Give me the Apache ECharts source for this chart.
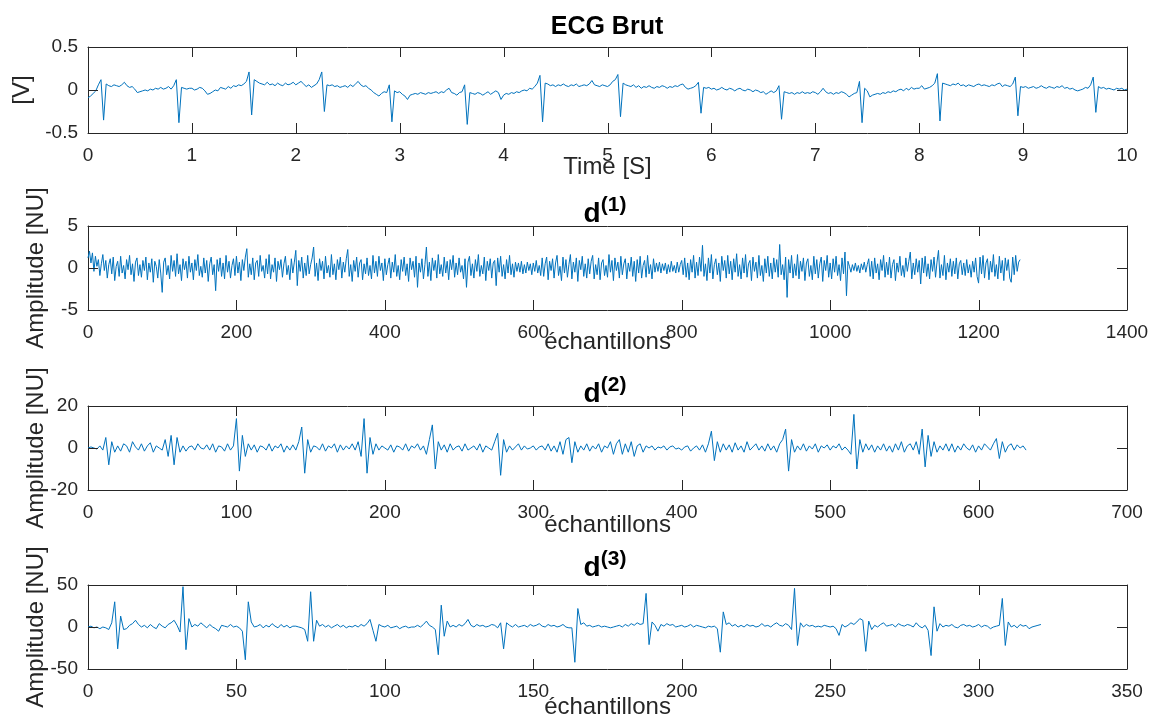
<!DOCTYPE html>
<html>
<head>
<meta charset="utf-8">
<script src="https://cdn.jsdelivr.net/npm/echarts@6/dist/echarts.min.js"></script>
<style>
html,body{margin:0;padding:0;background:#fff;}
#chart{width:1153px;height:718px;}
</style>
</head>
<body>
<div id="chart"></div>
<script>
// ---------- DATA ----------
const ecgStep = 0.025; // seconds per value
const ecgVolt = [
-0.09,-0.07,-0.04,-0.01,0.06,0.12,-0.35,0.07,0.05,0.04,
0.06,0.05,0.04,0.06,0.09,0.05,0.03,0.04,0.01,-0.03,
-0.02,-0.01,0.00,-0.01,0.01,0.00,0.02,0.01,0.03,0.01,
0.02,0.04,0.01,0.05,0.12,-0.38,0.03,0.02,0.01,0.02,
0.02,0.00,0.01,0.03,0.02,-0.01,-0.05,-0.04,-0.02,0.00,
-0.01,0.03,0.02,0.01,0.04,0.02,0.05,0.04,0.06,0.05,
0.07,0.10,0.21,-0.29,0.12,0.10,0.08,0.07,0.06,0.09,
0.06,0.07,0.05,0.08,0.06,0.05,0.08,0.06,0.07,0.09,
0.06,0.08,0.10,0.07,0.04,0.06,0.03,0.05,0.07,0.12,
0.21,-0.25,0.06,0.05,0.06,0.04,0.05,0.03,0.04,0.05,
0.03,0.06,0.04,0.07,0.10,0.06,0.04,0.05,0.02,0.00,
-0.03,-0.05,-0.07,-0.04,-0.02,-0.03,0.06,-0.37,-0.01,-0.03,
-0.02,-0.05,-0.07,-0.11,-0.06,-0.05,-0.04,-0.05,-0.03,-0.04,
-0.05,-0.03,-0.04,-0.03,-0.02,-0.04,-0.02,-0.03,0.00,0.02,
-0.03,-0.04,-0.06,-0.03,-0.02,0.06,-0.40,-0.03,-0.04,-0.05,
-0.03,-0.04,-0.06,-0.04,-0.02,-0.05,-0.03,-0.01,-0.03,-0.11,
-0.06,-0.04,-0.05,-0.03,-0.04,-0.02,-0.03,-0.01,0.00,-0.01,
0.02,0.01,0.04,0.08,0.17,-0.37,0.08,0.07,0.05,0.06,
0.04,0.06,0.05,0.07,0.05,0.04,0.06,0.05,0.07,0.04,
0.05,0.06,0.05,0.07,0.11,0.06,0.05,0.04,0.06,0.05,
0.04,0.06,0.10,0.12,0.18,-0.31,0.08,0.06,0.05,0.04,
0.06,0.03,0.05,0.02,0.04,0.03,0.05,0.03,0.02,0.04,
0.03,0.05,0.04,0.02,0.04,0.03,0.05,0.04,0.06,0.07,
0.03,0.01,0.02,0.03,0.05,0.09,-0.27,0.03,0.02,0.03,
0.01,0.02,0.00,0.01,0.03,0.01,0.00,0.02,0.01,-0.01,
0.01,0.02,0.00,-0.01,0.01,0.00,-0.02,0.00,-0.01,-0.03,
-0.02,-0.05,-0.03,-0.01,-0.03,-0.01,0.05,-0.34,-0.02,-0.03,
-0.04,-0.03,-0.05,-0.03,-0.04,-0.02,-0.04,-0.03,-0.04,-0.02,
-0.03,-0.05,-0.02,0.02,-0.02,-0.04,-0.03,-0.05,-0.03,-0.04,
-0.02,-0.03,-0.05,-0.08,-0.06,-0.04,-0.03,0.10,-0.38,0.02,
-0.01,-0.08,-0.06,-0.05,-0.04,-0.05,-0.03,-0.04,-0.02,-0.03,
-0.01,-0.02,0.00,0.01,-0.01,0.02,0.00,0.03,0.01,0.02,
0.02,0.05,0.01,0.02,0.03,0.05,0.08,0.19,-0.36,0.08,
0.07,0.06,0.05,0.07,0.06,0.08,0.05,0.06,0.04,0.06,
0.05,0.04,0.06,0.07,0.05,0.06,0.05,0.04,0.06,0.05,
0.07,0.08,0.04,0.06,0.05,0.04,0.07,0.15,-0.30,0.04,
0.03,0.04,0.02,0.03,0.04,0.02,0.03,0.05,0.03,0.02,
0.04,0.03,0.02,0.04,0.03,0.05,0.02,0.03,0.01,0.02,
0.00,-0.01,0.00,0.01,0.03,0.02,0.06,0.15,-0.26,0.04,
0.02,0.03,0.01,0.02,0.01,0.00,0.02,0.01,0.02,0.00,
0.01
];

const d1Step = 2; // samples per value
const d1Vals = [
1.2,2.0,0.6,1.8,-0.4,1.4,0.2,1.0,-0.9,0.5,
1.6,-0.3,0.9,-1.2,0.4,1.1,-0.7,1.3,-1.5,0.2,
0.8,-1.0,1.4,-0.6,0.3,-1.3,1.0,-0.2,1.5,-0.8,
0.5,-1.6,0.7,1.2,-0.9,0.4,-1.1,0.9,-0.3,1.3,
-1.4,0.6,-0.5,1.1,-1.7,0.8,0.2,-1.2,1.0,-0.6,
-2.9,0.7,1.2,-0.8,0.3,-1.3,1.5,-0.4,0.9,-1.0,
1.7,-0.7,0.4,-1.5,1.1,-0.2,0.8,-1.2,1.4,-0.5,
0.6,-1.4,1.0,-0.3,1.6,-0.9,0.2,-1.1,1.2,-0.6,
0.9,-1.6,0.5,1.3,-0.8,0.4,-2.7,1.0,-0.4,1.2,
-1.0,0.6,-1.3,1.5,-0.5,0.8,-1.2,0.3,1.1,-0.9,
1.4,-0.6,0.7,-1.5,1.0,-0.3,1.3,2.3,-1.1,0.5,
-0.8,1.2,-1.4,0.6,0.9,-1.0,1.5,-0.4,0.3,-1.2,
1.1,-0.7,1.6,-1.3,0.4,-0.5,1.2,-1.6,0.8,-0.2,
1.0,-1.1,0.5,1.4,-0.8,0.3,-1.4,1.1,-0.6,0.7,
2.1,-2.1,0.9,-0.4,1.3,-1.2,0.6,-0.9,1.5,-0.7,
0.4,1.2,2.5,-1.0,0.6,-1.5,1.1,-0.3,0.8,-1.3,
1.4,-0.6,0.3,-1.1,1.6,-0.8,0.5,-1.4,1.0,-0.2,
1.3,-1.2,0.7,-0.5,1.1,2.2,-1.0,0.4,-1.6,0.9,
-0.4,1.3,-1.1,0.6,1.0,-1.4,0.5,-0.7,1.2,-0.9,
0.3,-1.3,1.5,-0.6,0.8,-1.0,1.4,-0.3,0.6,-1.5,
1.1,-0.8,0.4,1.2,-1.2,0.7,-0.5,1.6,-1.0,0.3,
-1.4,1.0,-0.4,1.3,-0.9,0.5,-1.6,1.2,-0.2,0.8,
-1.1,1.4,-2.3,0.6,-0.5,1.1,-1.3,0.4,2.5,-1.0,
0.7,-1.5,1.2,-0.3,0.9,-1.2,1.6,-0.7,0.4,-1.0,
1.3,-0.6,0.8,-1.4,1.0,-0.2,1.5,-1.1,0.6,-0.8,
1.2,-0.5,0.3,-1.3,1.1,-2.3,0.7,1.4,-0.9,0.5,
-1.2,1.0,-0.4,1.6,-1.0,0.3,-0.7,1.3,-1.5,0.8,
-0.3,1.1,-1.2,0.6,0.9,-2.1,1.2,-0.5,1.4,-1.0,
0.4,-1.3,1.0,-0.6,1.5,-0.8,0.5,-1.1,0.7,-0.4,
0.6,-0.5,0.8,-0.7,0.4,-0.6,0.7,-0.3,0.5,-0.8,
0.6,-0.4,0.9,-0.6,0.3,-0.9,1.2,-1.0,0.5,1.3,
-1.4,0.8,-0.3,1.1,-1.2,0.6,1.5,-0.9,0.2,-1.5,
1.3,-0.6,1.0,-1.1,0.4,1.6,-1.3,0.7,-0.5,1.2,
-1.6,0.9,-0.2,1.4,-1.0,0.5,-1.2,1.1,-0.7,0.8,
1.5,-1.3,0.4,-0.8,1.2,-1.4,0.6,1.0,-0.9,0.3,
-1.1,1.6,-0.5,0.9,-1.5,1.2,-0.3,0.7,-1.2,1.4,
-0.8,0.5,1.1,-1.3,0.6,-0.4,1.3,-1.0,0.8,-1.6,
1.0,-0.6,1.4,-1.2,0.3,0.9,-1.1,1.5,-0.7,0.4,
-1.3,1.1,-0.5,0.6,-0.4,0.7,-0.6,0.5,-0.3,0.6,
-0.7,0.4,-0.5,0.8,-0.4,0.3,-0.6,0.7,-0.5,0.4,
0.9,-0.8,1.2,-1.1,0.6,-1.4,1.0,-0.5,1.5,-1.2,
0.7,-0.9,1.3,-0.4,2.7,-1.0,0.5,-1.5,1.2,-0.6,
1.6,-1.3,0.4,1.1,-0.8,0.6,-1.6,1.4,-0.3,0.9,
-1.2,1.5,-0.7,0.8,-1.4,1.1,-0.5,1.7,-1.0,0.4,
-1.3,1.2,-0.6,1.6,-1.1,0.5,0.9,-1.5,1.3,-0.4,
0.7,-1.2,1.5,-0.9,0.3,-1.6,1.1,-0.6,1.4,-1.0,
0.6,-1.3,1.2,-0.5,1.0,-1.1,2.8,-0.8,0.4,-1.4,
1.3,-3.5,1.0,-0.6,1.5,-1.2,0.5,-0.9,1.6,-1.3,
0.8,-0.4,1.2,-1.5,0.6,1.1,-1.0,0.3,-1.4,1.4,
-0.7,1.0,-1.2,0.5,1.3,-1.6,0.9,-0.3,1.5,-1.1,
0.6,-1.3,1.1,-0.5,1.4,-0.9,0.4,-1.5,1.2,-0.7,
1.9,-3.3,0.8,0.2,-0.5,0.4,-0.3,0.6,-0.4,0.3,
-0.6,0.5,-0.2,0.7,-0.5,0.4,1.1,-1.0,0.8,-1.3,
1.2,-0.6,0.5,-1.4,1.0,-0.3,1.5,-1.1,0.7,-0.8,
1.3,-1.2,0.4,1.0,-1.5,0.6,-0.5,1.4,-0.9,0.3,
-1.1,1.2,-0.4,0.8,1.9,-1.3,0.6,-0.8,1.1,-0.5,
0.9,-1.9,1.2,-0.6,1.4,-1.0,0.5,-1.3,1.0,-0.4,
1.3,-1.1,0.7,2.1,-1.2,0.4,-0.9,1.5,-1.4,0.6,
-0.5,1.1,-1.0,0.8,-0.7,1.2,-1.3,0.5,0.9,-0.8,
0.6,-0.9,1.0,-0.6,0.4,-1.1,0.8,-0.5,1.2,-1.0,
-1.8,1.3,-0.7,1.5,-1.2,0.6,1.1,-1.4,0.8,-0.5,
1.6,-1.0,0.4,-1.3,1.4,-0.6,0.9,-1.5,1.2,-0.3,
1.0,-1.2,-1.7,1.3,-0.8,1.5,-0.4,0.7,1.0
];

const d2Step = 2; // samples per value
const d2Vals = [
0,0.5,0,-0.5,1,-1,5,-8,3,-2,
1,-1.5,2,1,-2,3,0.5,-1,2,-1.5,
1,2.5,-2,1,0,-1,4,-4,6,-8,
5,-2,1,-1.5,0.5,1,-1,2,0,-0.5,
1.5,-1,2,-2,1,0.5,-1.5,2,-1,1,
14,-11,6,-4,2,-1,1.5,-2,1,0.5,
-1,2,-1.5,1,0,2,-2,1,-1,1.5,
-1,3,10,-12,4,-2,1,0.5,-1,2,
-1.5,1,0,2,-2,1.5,-1,1,-0.5,2,
-1,3,-4,14,-12,5,-3,2,-1,1,
0,-1,1.5,-2,1,0.5,-1,2,-1.5,1,
0,2,-1,1,-3,4,11,-10,3,-1,
1.5,-2,2,-1,0.5,1,-1.5,2,-1,0,
1,-1,2,-2,1,0,-1,3,7,-13,
4,-2,1,-1,0.5,2,-1,1,-0.5,0,
1,-1,0.5,1,-1,2,-1.5,1,-2,3,
-3,4,5,-7,3,-2,1,-1,2,-1.5,
1,-0.5,2,-2,1,0,3,-3,2,4,
-3,2,-2,3,-4,1,2,-2,1,0,
1,-1,0.5,0,1,-1,0.5,1,-0.5,0,
-1,0.5,1,-1.5,0,1,-1,1.5,-2,2,
8,-6,3,-2,2,-1,1.5,-2,2.5,-1,
1,-2,3,-1,0.5,2,-1,1,-1.5,2,
-1,1,-2,2,4,9,-11,4,-2,1,
-1,2,-1.5,1,-0.5,2,-2,1,0,1.5,
-1,1,0,2,-1,0.5,-1,-3,16,-10,
4,-2,2,-1,1.5,-2,1,-1,2,-1.5,
1,-2,2,-1,3,-2,1,2,-1,3,
-3,9,-9,6,-4,3,-2,1,-1,2,
-1.5,2,-2,1,-1,2,0,-1,1.5,-2,
1,-1,2,0.5,-1,2,4.5,-5,3,-2,
1,2,-1,1.5,0,1,-1
];

const d3Vals = [
0,1,-1,0,-2,0,-1,-3,5,30,
-26,13,-3,-2,2,4,8,3,0,2,
-1,3,0,-2,4,1,-1,3,5,8,
2,-6,48,-27,10,0,3,1,5,2,
-1,3,0,-2,-5,2,1,0,3,0,
1,-1,-5,-39,30,6,0,1,3,-1,
2,0,4,1,-1,3,0,2,-1,1,
1,0,-1,-3,-17,42,-17,8,1,3,
0,2,-1,1,3,0,2,-1,1,0,
2,0,3,1,4,9,-4,-17,3,1,
0,2,-1,0,1,-2,0,1,-1,0,
0,2,0,3,7,2,0,-3,-33,26,
-11,7,0,2,0,3,1,4,9,2,
0,3,1,2,0,1,3,2,-1,5,
-26,5,2,0,3,0,1,2,0,3,
1,2,4,1,0,3,1,2,0,1,
3,0,-1,-1,-42,22,3,5,1,2,
0,1,2,0,1,0,-1,0,1,2,
0,3,1,4,2,5,3,4,40,-21,
6,2,-5,3,1,4,2,3,0,1,
2,0,1,3,0,2,1,0,-1,1,
0,1,-2,-30,18,3,5,1,3,0,
2,0,3,1,2,0,1,4,1,2,
0,3,5,2,1,4,2,-3,46,-22,
5,0,3,1,2,0,1,0,2,1,
0,1,-2,-10,3,0,2,5,3,6,
10,8,-29,7,-3,2,0,3,5,1,
2,3,0,4,2,1,3,2,0,5,
1,-1,2,-4,-34,24,-5,4,0,2,
1,3,0,-1,2,3,1,2,0,1,
3,0,2,1,-2,0,1,2,34,-22,
6,0,2,-1,3,1,2,-2,0,1,2,3
];

const titles = ['ECG Brut', '1', '2', '3'];
const xNames = ['Time [S]', 'échantillons', 'échantillons', 'échantillons'];
const yNames = ['[V]', 'Amplitude [NU]', 'Amplitude [NU]', 'Amplitude [NU]'];
const xMax = [10, 1400, 700, 350];
const xInterval = [1, 200, 100, 50];
const yMax = [0.5, 5, 20, 50];

// ---------- BUILD ----------
const FONT = 'Liberation Sans, Arial, Helvetica, sans-serif';
const AX = '#262626';
const LINE = '#0072BD';
const TICK = 10;
const gridTops = [47, 226, 406, 585];
const gridH = [86, 84, 84, 84];
const xNameGap = [22, 20, 23, 26];
const yNameGap = [54, 40, 40, 40];
const titleTops = [15, 195, 375, 549];

const series = [
  ecgVolt.map((v, i) => [i * ecgStep, v]),
  d1Vals.map((v, i) => [i * d1Step, v]),
  d2Vals.map((v, i) => [i * d2Step, v]),
  d3Vals.map((v, i) => [i, v])
];

function axLine() { return {show: true, onZero: false, lineStyle: {color: AX, width: 1}}; }
function noFmt(v) { return String(v); }
function tickLine(x1, y1, x2, y2) {
  return {type: 'line', shape: {x1: x1, y1: y1, x2: x2, y2: y2}, style: {stroke: AX, lineWidth: 1}, z: 100};
}

const grid = [], xAxis = [], yAxis = [], ser = [], title = [];
const xTickVals = [], yTickVals = [];
for (let k = 0; k < 4; k++) {
  grid.push({left: 88, top: gridTops[k], width: 1039, height: gridH[k], containLabel: false, outerBoundsMode: 'none'});
  xAxis.push({
    type: 'value', gridIndex: k, position: 'bottom', min: 0, max: xMax[k], interval: xInterval[k],
    axisLine: axLine(), axisTick: {show: false}, splitLine: {show: false},
    axisLabel: {show: true, fontSize: 19, color: AX, margin: 13, fontFamily: FONT, formatter: noFmt},
    name: xNames[k], nameLocation: 'middle', nameGap: xNameGap[k], nameMoveOverlap: false,
    nameTextStyle: {fontSize: 24, color: AX, fontFamily: FONT}
  });
  xAxis.push({
    type: 'value', gridIndex: k, position: 'top', min: 0, max: xMax[k], interval: xInterval[k],
    axisLine: axLine(), axisTick: {show: false}, splitLine: {show: false},
    axisLabel: {show: false}
  });
  yAxis.push({
    type: 'value', gridIndex: k, position: 'left', min: -yMax[k], max: yMax[k], interval: yMax[k],
    axisLine: axLine(), axisTick: {show: false}, splitLine: {show: false},
    axisLabel: {show: true, fontSize: 19, color: AX, margin: 10, fontFamily: FONT, formatter: noFmt},
    name: yNames[k], nameLocation: 'middle', nameGap: yNameGap[k], nameMoveOverlap: false,
    nameTextStyle: {fontSize: 24, color: AX, fontFamily: FONT}
  });
  yAxis.push({
    type: 'value', gridIndex: k, position: 'right', min: -yMax[k], max: yMax[k], interval: yMax[k],
    axisLine: axLine(), axisTick: {show: false}, splitLine: {show: false},
    axisLabel: {show: false}
  });
  ser.push({
    type: 'line', xAxisIndex: 2 * k, yAxisIndex: 2 * k, data: series[k],
    showSymbol: false, symbol: 'none', sampling: null, animation: false,
    lineStyle: {color: LINE, width: 1}, itemStyle: {color: LINE}, z: 2
  });
  const xt = [], yt = [];
  for (let v = 0; v <= xMax[k] + 1e-9; v += xInterval[k]) xt.push(v);
  for (let v = -yMax[k]; v <= yMax[k] + 1e-9; v += yMax[k]) yt.push(v);
  xTickVals.push(xt); yTickVals.push(yt);
  if (k === 0) {
    title.push({text: titles[0], left: 607, top: titleTops[0], textAlign: 'center', padding: 0,
      textStyle: {fontSize: 25, fontWeight: 'bold', color: '#000', fontFamily: FONT}});
  } else {
    title.push({text: '{d|d}{s|(' + titles[k] + ')}', left: 605, top: titleTops[k], textAlign: 'center', padding: 0,
      textStyle: {color: '#000', fontFamily: FONT,
        rich: {
          d: {fontSize: 28, fontWeight: 'bold', lineHeight: 38, color: '#000', fontFamily: FONT},
          s: {fontSize: 21, fontWeight: 'bold', lineHeight: 21, verticalAlign: 'top', color: '#000', fontFamily: FONT}
        }}});
  }
}

const chart = echarts.init(document.getElementById('chart'), null, {renderer: 'canvas'});
chart.setOption({
  backgroundColor: '#fff',
  animation: false,
  textStyle: {fontFamily: FONT},
  title: title, grid: grid, xAxis: xAxis, yAxis: yAxis, series: ser
});

// inside tick marks on all four sides (MATLAB box style), placed through each grid's scales
const tickEls = [];
for (let k = 0; k < 4; k++) {
  xTickVals[k].forEach(function (v) {
    const t = chart.convertToPixel({gridIndex: k}, [v, yMax[k]]);
    const b = chart.convertToPixel({gridIndex: k}, [v, -yMax[k]]);
    const x = Math.round(t[0]) + 0.5;
    tickEls.push(tickLine(x, t[1], x, t[1] + TICK));
    tickEls.push(tickLine(x, b[1], x, b[1] - TICK));
  });
  yTickVals[k].forEach(function (v) {
    const l = chart.convertToPixel({gridIndex: k}, [0, v]);
    const r = chart.convertToPixel({gridIndex: k}, [xMax[k], v]);
    const y = Math.round(l[1]) + 0.5;
    tickEls.push(tickLine(l[0], y, l[0] + TICK, y));
    tickEls.push(tickLine(r[0], y, r[0] - TICK, y));
  });
}
chart.setOption({graphic: {elements: tickEls}});
</script>
</body>
</html>
